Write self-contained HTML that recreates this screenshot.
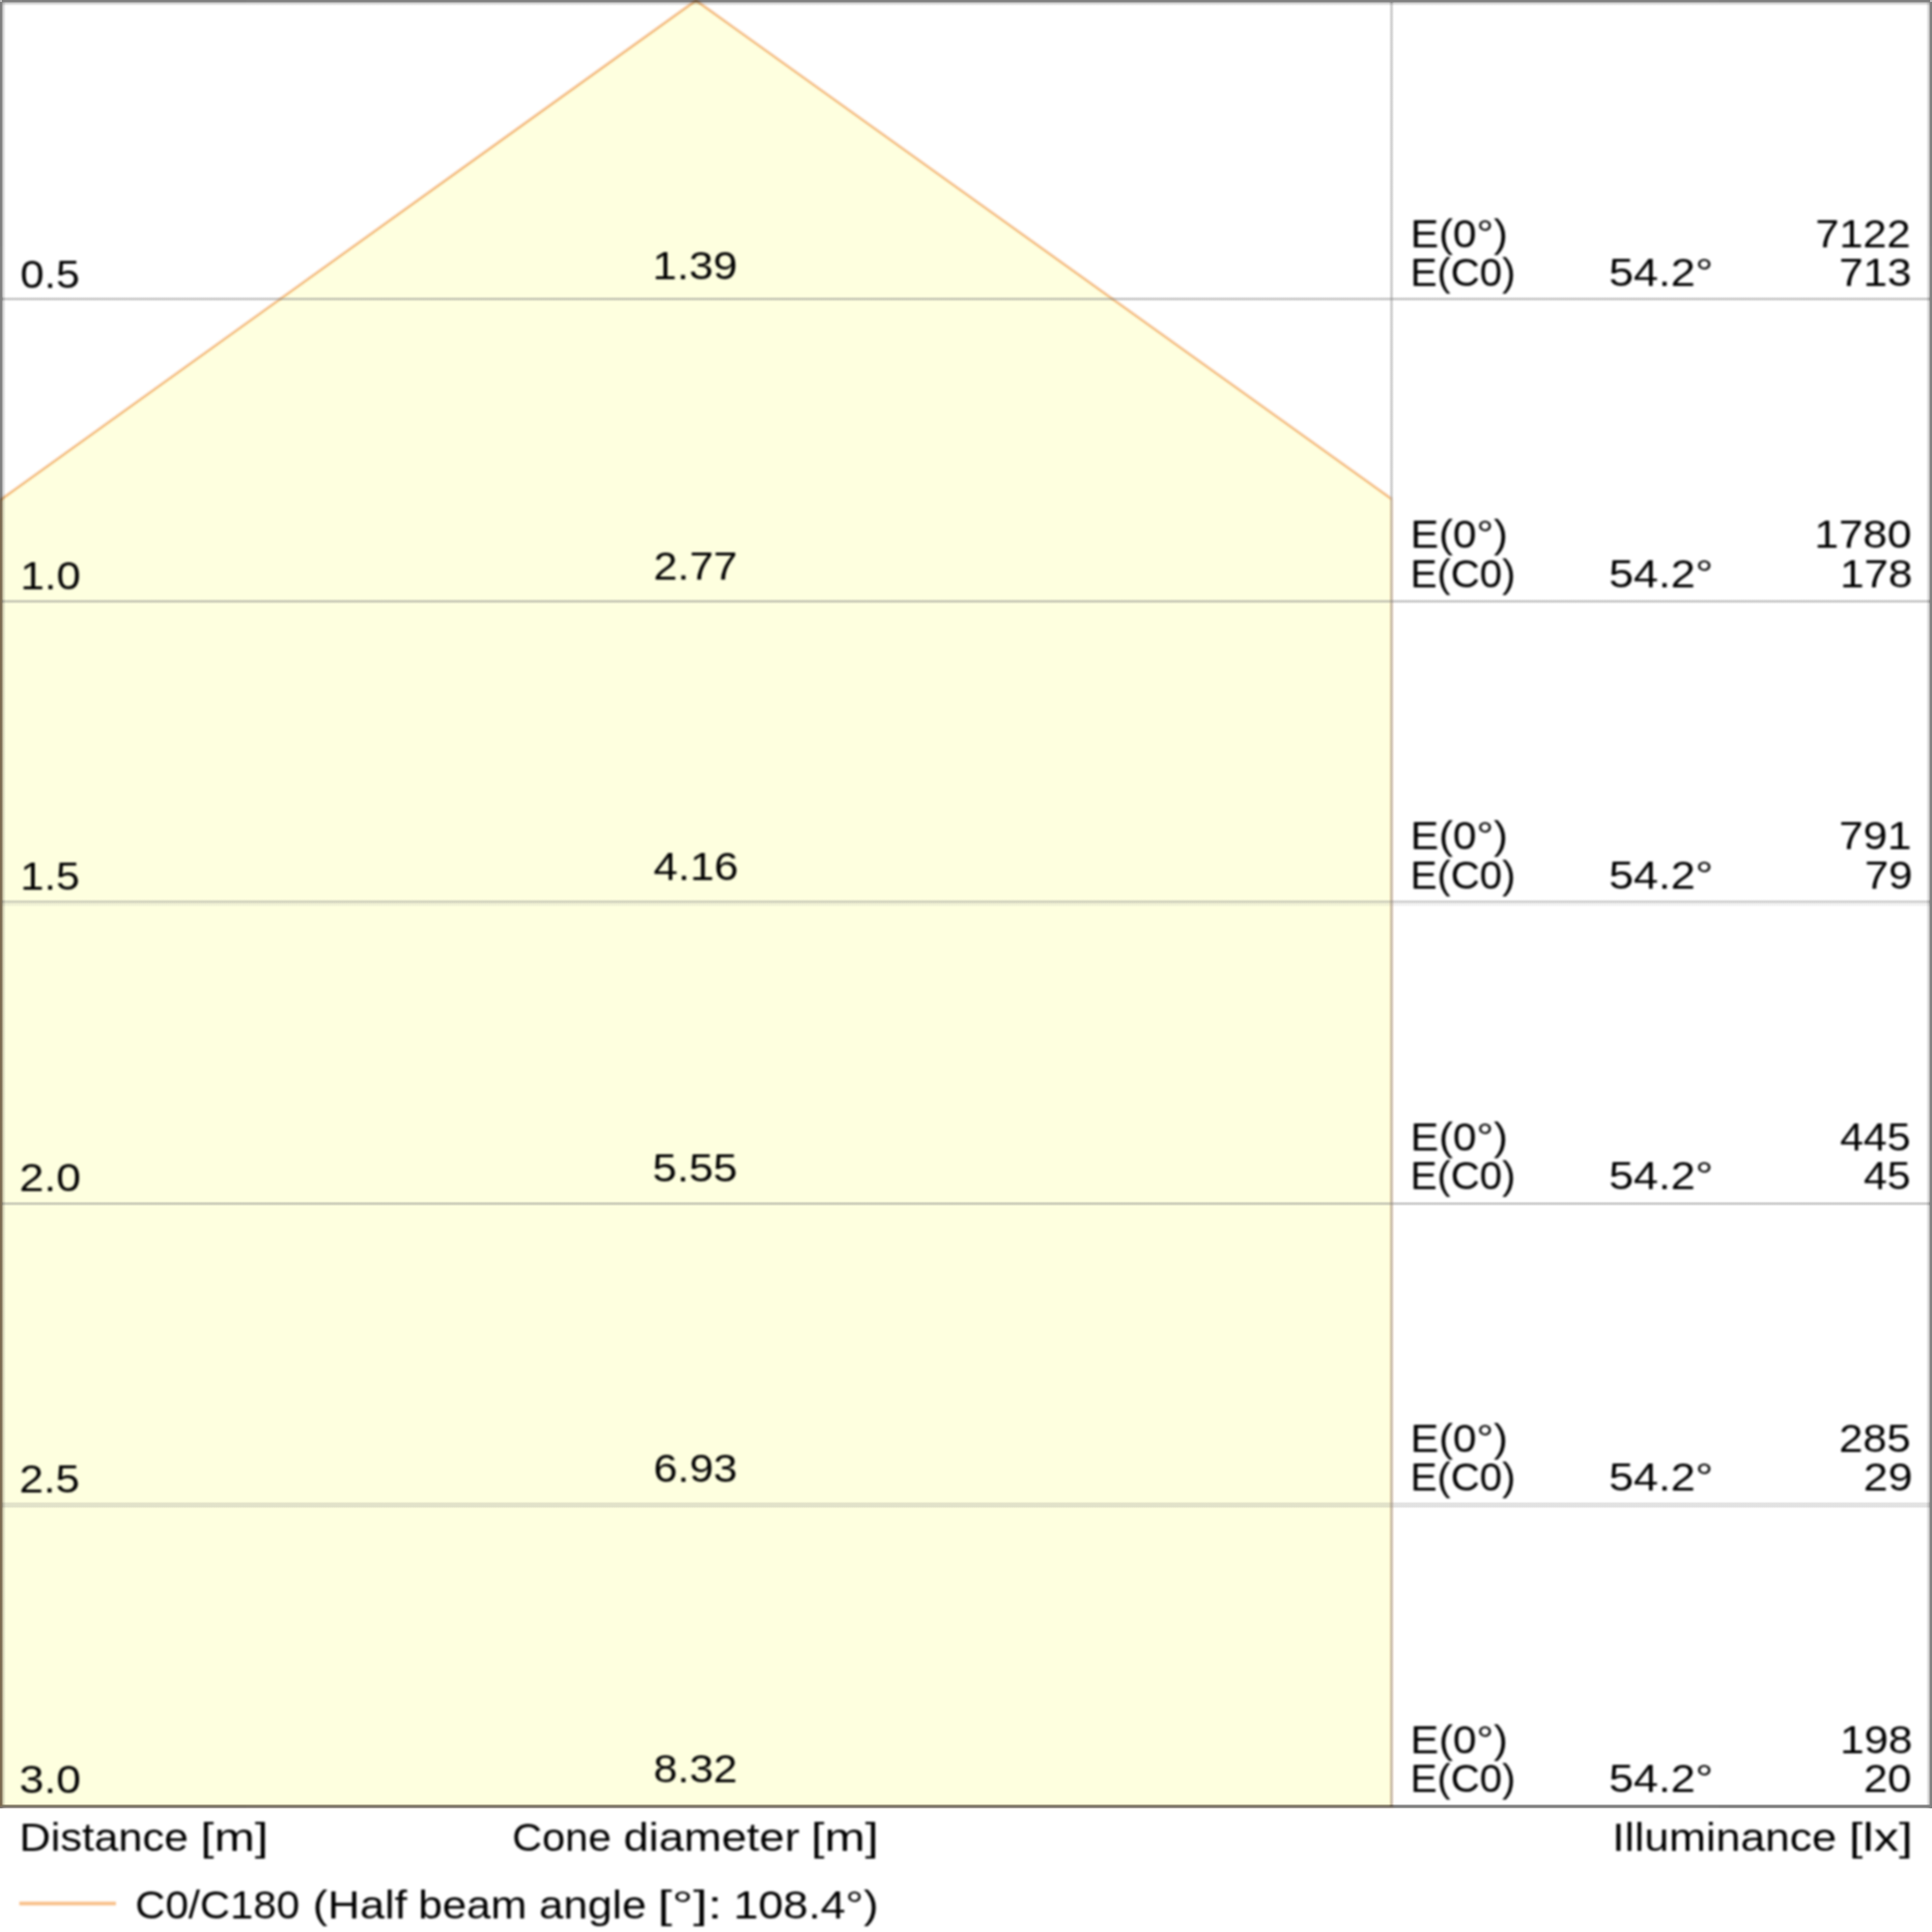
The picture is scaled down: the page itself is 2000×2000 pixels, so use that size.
<!DOCTYPE html>
<html lang="en"><head><meta charset="utf-8"><title>Cone diagram</title>
<style>
html,body{margin:0;padding:0;background:#fff;}
body{width:2000px;height:2000px;overflow:hidden;}
svg{display:block;}
text{font-family:"Liberation Sans", sans-serif;font-size:41.4px;fill:#000;}
</style></head><body>
<svg width="2000" height="2000" viewBox="0 0 2000 2000">
<defs>
<linearGradient id="gl" x1="0" x2="1" y1="0" y2="0"><stop offset="0" stop-opacity="1"/><stop offset=".24" stop-opacity="1"/><stop offset=".56" stop-opacity=".36"/><stop offset="1" stop-opacity="0"/></linearGradient>
<linearGradient id="gr" x1="1" x2="0" y1="0" y2="0"><stop offset="0" stop-opacity="1"/><stop offset=".24" stop-opacity="1"/><stop offset=".56" stop-opacity=".36"/><stop offset="1" stop-opacity="0"/></linearGradient>
<linearGradient id="gt" x1="0" x2="0" y1="0" y2="1"><stop offset="0" stop-opacity="1"/><stop offset=".24" stop-opacity="1"/><stop offset=".56" stop-opacity=".36"/><stop offset="1" stop-opacity="0"/></linearGradient>
<linearGradient id="gb" x1="0" x2="0" y1="0" y2="1"><stop offset="0" stop-opacity="0"/><stop offset=".3" stop-opacity="1"/><stop offset=".7" stop-opacity="1"/><stop offset="1" stop-opacity="0"/></linearGradient>
<linearGradient id="gh" x1="0" x2="0" y1="0" y2="1"><stop offset="0" stop-color="#808080" stop-opacity="0"/><stop offset=".42" stop-color="#808080" stop-opacity=".38"/><stop offset=".58" stop-color="#808080" stop-opacity=".38"/><stop offset="1" stop-color="#808080" stop-opacity="0"/></linearGradient>
<linearGradient id="gh4" x1="0" x2="0" y1="0" y2="1"><stop offset="0" stop-color="#808080" stop-opacity="0"/><stop offset=".3" stop-color="#808080" stop-opacity=".23"/><stop offset=".7" stop-color="#808080" stop-opacity=".23"/><stop offset="1" stop-color="#808080" stop-opacity="0"/></linearGradient>
<linearGradient id="gv" x1="0" x2="1" y1="0" y2="0"><stop offset="0" stop-color="#808080" stop-opacity="0"/><stop offset=".42" stop-color="#808080" stop-opacity=".36"/><stop offset=".58" stop-color="#808080" stop-opacity=".36"/><stop offset="1" stop-color="#808080" stop-opacity="0"/></linearGradient>
<filter id="bt" x="-5%" y="-5%" width="110%" height="110%"><feGaussianBlur stdDeviation="0.8"/></filter>
<filter id="bl" x="-5%" y="-5%" width="110%" height="110%"><feGaussianBlur stdDeviation="0.8"/></filter>
</defs>
<rect width="2000" height="2000" fill="#fff"/>
<polygon points="720.5,0.5 1440.5,516.5 1440.5,1870 0,1870 0,517.5" fill="#feffdf"/>
<g filter="url(#bl)">
<polyline points="0.5,517.5 720.5,0.5 1440.5,516.5" fill="none" stroke="#ee9644" stroke-opacity=".7" stroke-width="2.3" stroke-linejoin="miter"/>
<line x1="0.5" y1="517.5" x2="0.5" y2="1870" stroke="#ee9644" stroke-opacity=".5" stroke-width="3"/>
<line x1="1440.5" y1="516.5" x2="1440.5" y2="1870" stroke="#ee9644" stroke-opacity=".26" stroke-width="3"/>
<line x1="0" y1="1870" x2="1442" y2="1870" stroke="#ee9644" stroke-opacity=".2" stroke-width="3"/>
<rect x="20" y="1968.7" width="100" height="3.6" fill="#f8bd84"/>
</g>
<rect x="2" y="306.9" width="1996" height="5.2" fill="url(#gh)"/><rect x="2" y="619.9" width="1996" height="5.2" fill="url(#gh)"/><rect x="2" y="930.9" width="1996" height="5.2" fill="url(#gh)" opacity=".87"/><rect x="2" y="934" width="1996" height="5" fill="url(#gh)" opacity=".26"/><rect x="2" y="1243.4" width="1996" height="5.2" fill="url(#gh)"/><rect x="2" y="1554.2" width="1996" height="7.6" fill="url(#gh4)"/>
<rect x="1437.9" y="2" width="5.2" height="1868" fill="url(#gv)"/>
<g opacity=".5">
<rect x="0" y="2" width="6" height="1870" fill="url(#gl)"/>
<rect x="1994" y="2" width="6" height="1870" fill="url(#gr)"/>
<rect x="2" y="0" width="1996" height="6" fill="url(#gt)"/>
<rect x="2" y="1867.5" width="1996" height="5" fill="url(#gb)"/>
<rect x="0" y="0" width="2" height="2" fill-opacity=".5"/>
<rect x="1998" y="0" width="2" height="2" fill-opacity=".5"/>
</g>
<g filter="url(#bt)">
<text y="298.00"><tspan x="21.07" textLength="61.47" lengthAdjust="spacingAndGlyphs">0.5</tspan></text>
<text y="288.50"><tspan x="675.53" textLength="87.98" lengthAdjust="spacingAndGlyphs">1.39</tspan></text>
<text y="255.60"><tspan x="1460.04" textLength="100.86" lengthAdjust="spacingAndGlyphs">E(0°)</tspan></text>
<text y="295.90"><tspan x="1460.04" textLength="108.81" lengthAdjust="spacingAndGlyphs">E(C0)</tspan></text>
<text y="295.90"><tspan x="1665.50" textLength="107.99" lengthAdjust="spacingAndGlyphs">54.2°</tspan></text>
<text y="255.60"><tspan x="1879.31" textLength="98.59" lengthAdjust="spacingAndGlyphs">7122</tspan></text>
<text y="295.90"><tspan x="1903.70" textLength="75.27" lengthAdjust="spacingAndGlyphs">713</tspan></text>
<text y="609.64"><tspan x="21.07" textLength="62.55" lengthAdjust="spacingAndGlyphs">1.0</tspan></text>
<text y="599.86"><tspan x="676.53" textLength="86.94" lengthAdjust="spacingAndGlyphs">2.77</tspan></text>
<text y="567.40"><tspan x="1460.04" textLength="100.86" lengthAdjust="spacingAndGlyphs">E(0°)</tspan></text>
<text y="607.70"><tspan x="1460.04" textLength="108.81" lengthAdjust="spacingAndGlyphs">E(C0)</tspan></text>
<text y="607.70"><tspan x="1665.50" textLength="107.99" lengthAdjust="spacingAndGlyphs">54.2°</tspan></text>
<text y="567.40"><tspan x="1878.25" textLength="100.73" lengthAdjust="spacingAndGlyphs">1780</tspan></text>
<text y="607.70"><tspan x="1904.71" textLength="75.25" lengthAdjust="spacingAndGlyphs">178</tspan></text>
<text y="921.28"><tspan x="21.14" textLength="61.39" lengthAdjust="spacingAndGlyphs">1.5</tspan></text>
<text y="911.22"><tspan x="676.49" textLength="88.01" lengthAdjust="spacingAndGlyphs">4.16</tspan></text>
<text y="879.20"><tspan x="1460.04" textLength="100.86" lengthAdjust="spacingAndGlyphs">E(0°)</tspan></text>
<text y="919.50"><tspan x="1460.04" textLength="108.81" lengthAdjust="spacingAndGlyphs">E(C0)</tspan></text>
<text y="919.50"><tspan x="1665.50" textLength="107.99" lengthAdjust="spacingAndGlyphs">54.2°</tspan></text>
<text y="879.20"><tspan x="1903.70" textLength="75.27" lengthAdjust="spacingAndGlyphs">791</tspan></text>
<text y="919.50"><tspan x="1930.16" textLength="49.77" lengthAdjust="spacingAndGlyphs">79</tspan></text>
<text y="1232.92"><tspan x="20.00" textLength="63.66" lengthAdjust="spacingAndGlyphs">2.0</tspan></text>
<text y="1222.58"><tspan x="675.51" textLength="87.99" lengthAdjust="spacingAndGlyphs">5.55</tspan></text>
<text y="1191.00"><tspan x="1460.04" textLength="100.86" lengthAdjust="spacingAndGlyphs">E(0°)</tspan></text>
<text y="1231.30"><tspan x="1460.04" textLength="108.81" lengthAdjust="spacingAndGlyphs">E(C0)</tspan></text>
<text y="1231.30"><tspan x="1665.50" textLength="107.99" lengthAdjust="spacingAndGlyphs">54.2°</tspan></text>
<text y="1191.00"><tspan x="1904.71" textLength="73.22" lengthAdjust="spacingAndGlyphs">445</tspan></text>
<text y="1231.30"><tspan x="1929.18" textLength="48.74" lengthAdjust="spacingAndGlyphs">45</tspan></text>
<text y="1544.56"><tspan x="20.05" textLength="62.53" lengthAdjust="spacingAndGlyphs">2.5</tspan></text>
<text y="1533.94"><tspan x="676.53" textLength="86.94" lengthAdjust="spacingAndGlyphs">6.93</tspan></text>
<text y="1502.80"><tspan x="1460.04" textLength="100.86" lengthAdjust="spacingAndGlyphs">E(0°)</tspan></text>
<text y="1543.10"><tspan x="1460.04" textLength="108.81" lengthAdjust="spacingAndGlyphs">E(C0)</tspan></text>
<text y="1543.10"><tspan x="1665.50" textLength="107.99" lengthAdjust="spacingAndGlyphs">54.2°</tspan></text>
<text y="1502.80"><tspan x="1903.74" textLength="74.21" lengthAdjust="spacingAndGlyphs">285</tspan></text>
<text y="1543.10"><tspan x="1929.10" textLength="50.91" lengthAdjust="spacingAndGlyphs">29</tspan></text>
<text y="1856.20"><tspan x="20.00" textLength="63.66" lengthAdjust="spacingAndGlyphs">3.0</tspan></text>
<text y="1845.30"><tspan x="676.53" textLength="86.92" lengthAdjust="spacingAndGlyphs">8.32</tspan></text>
<text y="1814.60"><tspan x="1460.04" textLength="100.86" lengthAdjust="spacingAndGlyphs">E(0°)</tspan></text>
<text y="1854.90"><tspan x="1460.04" textLength="108.81" lengthAdjust="spacingAndGlyphs">E(C0)</tspan></text>
<text y="1854.90"><tspan x="1665.50" textLength="107.99" lengthAdjust="spacingAndGlyphs">54.2°</tspan></text>
<text y="1814.60"><tspan x="1904.71" textLength="75.25" lengthAdjust="spacingAndGlyphs">198</tspan></text>
<text y="1854.90"><tspan x="1929.16" textLength="49.80" lengthAdjust="spacingAndGlyphs">20</tspan></text>
<text y="1916.00"><tspan x="20.00" textLength="174.91" lengthAdjust="spacingAndGlyphs">Distance</tspan> <tspan x="207.61" textLength="70.19" lengthAdjust="spacingAndGlyphs">[m]</tspan></text>
<text y="1916.00"><tspan x="530.35" textLength="102.38" lengthAdjust="spacingAndGlyphs">Cone</tspan> <tspan x="645.41" textLength="182.35" lengthAdjust="spacingAndGlyphs">diameter</tspan> <tspan x="839.46" textLength="70.19" lengthAdjust="spacingAndGlyphs">[m]</tspan></text>
<text y="1916.00"><tspan x="1668.99" textLength="232.31" lengthAdjust="spacingAndGlyphs">Illuminance</tspan> <tspan x="1913.99" textLength="66.00" lengthAdjust="spacingAndGlyphs">[lx]</tspan></text>
<text y="1985.50"><tspan x="140.02" textLength="170.11" lengthAdjust="spacingAndGlyphs">C0/C180</tspan> <tspan x="323.77" textLength="97.50" lengthAdjust="spacingAndGlyphs">(Half</tspan> <tspan x="432.98" textLength="112.42" lengthAdjust="spacingAndGlyphs">beam</tspan> <tspan x="558.14" textLength="110.99" lengthAdjust="spacingAndGlyphs">angle</tspan> <tspan x="680.68" textLength="67.06" lengthAdjust="spacingAndGlyphs">[°]:</tspan> <tspan x="759.23" textLength="150.12" lengthAdjust="spacingAndGlyphs">108.4°)</tspan></text>
</g>
</svg>
</body></html>
